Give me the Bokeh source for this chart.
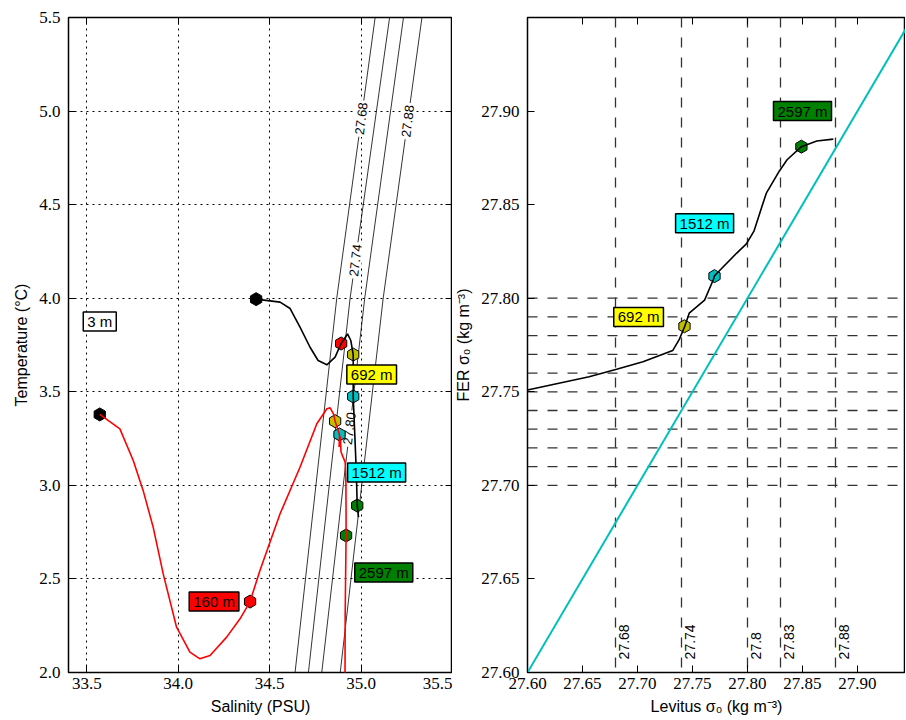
import numpy as np
from bokeh.plotting import figure
from bokeh.layouts import row
from bokeh.models import (Range1d, FixedTicker, PrintfTickFormatter, LinearAxis,
                          Span, Label)
from bokeh.core.properties import value
from bokeh.embed import file_html
from bokeh.resources import INLINE

# ------------------------------------------------------------------ data
depth_labels = ["3 m", "160 m", "692 m", "1512 m", "2597 m"]
box_colors = ["white", "#ff0000", "#ffff00", "#00ffff", "#008000"]
marker_colors = ["black", "#ff0000", "#bfbf00", "#00bfbf", "#008000"]

# station A (black T-S profile)
a_sal = [34.426, 34.557, 34.612, 34.666, 34.721, 34.765, 34.813, 34.858, 34.891,
         34.926, 34.944, 34.957, 34.957, 34.973, 34.979, 34.986]
a_temp = [3.995, 3.979, 3.945, 3.845, 3.738, 3.667, 3.644, 3.685, 3.758,
          3.809, 3.774, 3.699, 3.475, 3.097, 2.892, 2.830]
a_mk_sal = [34.426, 34.891, 34.957, 34.957, 34.979]
a_mk_temp = [3.995, 3.758, 3.699, 3.475, 2.892]

# station B (red T-S profile)
b_sal = [33.571, 33.681, 33.754, 33.808, 33.863, 33.918, 33.991, 34.064, 34.119,
         34.174, 34.265, 34.338, 34.393, 34.447, 34.557, 34.666, 34.758, 34.813,
         34.831, 34.849, 34.858, 34.882, 34.880, 34.887, 34.890, 34.900, 34.913,
         34.917, 34.918, 34.918, 34.913, 34.912]
b_temp = [3.379, 3.302, 3.133, 2.973, 2.777, 2.527, 2.242, 2.109, 2.073,
          2.091, 2.189, 2.287, 2.379, 2.545, 2.848, 3.097, 3.329, 3.409,
          3.414, 3.382, 3.343, 3.272, 3.205, 3.262, 3.180, 3.155, 3.124,
          3.030, 2.850, 2.732, 2.300, 1.900]
b_mk_sal = [33.571, 34.393, 34.858, 34.882, 34.918]
b_mk_temp = [3.379, 2.379, 3.343, 3.272, 2.732]

# isopycnals (sigma0)
iso_levels = ["27.68", "27.74", "27.80", "27.88"]
iso_temp = [2.0, 4.0, 5.5]
iso_sal = [[34.639, 34.867, 35.077],
           [34.712, 34.940, 35.156],
           [34.785, 35.020, 35.232],
           [34.886, 35.121, 35.333]]
iso_lab_sal = [35.001, 34.969, 34.936, 35.255]
iso_lab_temp = [4.960, 4.202, 3.304, 4.946]

# depth label anchors, T-S panel
ts_lab_sal = [33.571, 34.196, 35.058, 35.085, 35.124]
ts_lab_temp = [3.876, 2.379, 3.592, 3.069, 2.534]

# FER vs Levitus sigma0
lev_sigma = [27.600, 27.656, 27.681, 27.705, 27.732, 27.738, 27.743, 27.747, 27.761,
             27.769, 27.770, 27.790, 27.799, 27.806, 27.817, 27.829, 27.836, 27.849,
             27.863, 27.878]
fer_sigma = [27.751, 27.758, 27.762, 27.766, 27.772, 27.778, 27.785, 27.792, 27.799,
             27.810, 27.812, 27.824, 27.829, 27.836, 27.856, 27.868, 27.874, 27.881,
             27.884, 27.885]
sig_mk_lev = [27.7427, 27.770, 27.849]
sig_mk_fer = [27.785, 27.8118, 27.881]
sig_lab_lev = [27.701, 27.761, 27.850]
sig_lab_fer = [27.790, 27.840, 27.900]
one_to_one = [27.60, 27.95]

lev_levels = [27.68, 27.74, 27.80, 27.83, 27.88]
lev_level_labels = ["27.68", "27.74", "27.8", "27.83", "27.88"]
fer_levels = [27.70, 27.71, 27.72, 27.73, 27.74, 27.75, 27.76, 27.77, 27.78, 27.79, 27.80]

ts_xticks = [33.5, 34.0, 34.5, 35.0, 35.5]
ts_yticks = [2.0, 2.5, 3.0, 3.5, 4.0, 4.5, 5.0, 5.5]
sig_ticks = [27.60, 27.65, 27.70, 27.75, 27.80, 27.85, 27.90]

# ------------------------------------------------------------------ styling helpers
SERIF = "Liberation Serif"
SANS = "Liberation Sans"


def style_axis(ax, ticks, fmt, label=None, standoff=6):
    ax.ticker = FixedTicker(ticks=ticks)
    ax.formatter = PrintfTickFormatter(format=fmt)
    ax.axis_line_color = None
    ax.major_tick_in = 7
    ax.major_tick_out = 0
    ax.major_tick_line_color = "black"
    ax.major_tick_line_width = 1
    ax.minor_tick_line_color = None
    ax.major_label_text_font = SERIF
    ax.major_label_text_font_size = "17px"
    ax.major_label_text_color = "black"
    ax.major_label_standoff = standoff
    if label is not None:
        ax.axis_label = label
        ax.axis_label_text_font = SANS
        ax.axis_label_text_font_size = "16px"
        ax.axis_label_text_font_style = "normal"
        ax.axis_label_text_color = "black"
        ax.axis_label_standoff = 6


def tick_only_axis(ticks):
    return LinearAxis(ticker=FixedTicker(ticks=ticks),
                      major_label_overrides={t: "" for t in ticks},
                      major_tick_in=7, major_tick_out=0, minor_tick_line_color=None,
                      axis_line_color=None, major_label_standoff=0,
                      major_tick_line_color="black")


def depth_label(p, x, y, text, fill):
    p.add_layout(Label(x=x, y=y, text=text, text_align="center", text_baseline="middle",
                       text_font=SANS, text_font_size="15px", text_color="black",
                       background_fill_color=fill, border_line_color="black",
                       border_line_width=1.5, padding=(4, 1)))


# ------------------------------------------------------------------ T-S panel
p1 = figure(frame_width=384, frame_height=655,
            x_range=Range1d(33.4, 35.5), y_range=Range1d(2.0, 5.5),
            output_backend="svg", toolbar_location=None,
            min_border_left=68, min_border_right=0, min_border_top=17, min_border_bottom=46,
            background_fill_color="white", border_fill_color="white")
p1.outline_line_color = "black"
p1.outline_line_width = 1.5
style_axis(p1.below[0], ts_xticks, "%.1f", "Salinity (PSU)", standoff=5)
style_axis(p1.left[0], ts_yticks, "%.1f", "Temperature (°C)", standoff=8)
p1.xgrid.ticker = FixedTicker(ticks=ts_xticks)
p1.ygrid.ticker = FixedTicker(ticks=ts_yticks)
p1.grid.grid_line_color = "black"
p1.grid.grid_line_dash = "2 4"
p1.grid.grid_line_width = 1
p1.add_layout(tick_only_axis(ts_xticks), "above")
p1.add_layout(tick_only_axis(ts_yticks), "right")

for sal in iso_sal:
    p1.line(sal, iso_temp, line_color="black", line_width=0.8)
p1.text(x=iso_lab_sal, y=iso_lab_temp, text=iso_levels, angle=83, angle_units="deg",
        text_align="center", text_baseline="middle", text_font=value(SANS),
        text_font_size="13px", text_color="black", background_fill_color="white", padding=2)

p1.scatter(a_mk_sal, a_mk_temp, marker="hex", size=13, angle=30, angle_units="deg",
           fill_color=marker_colors, line_color="black", line_width=1)
p1.scatter(b_mk_sal, b_mk_temp, marker="hex", size=13, angle=30, angle_units="deg",
           fill_color=marker_colors, line_color="black", line_width=1)
p1.line(b_sal, b_temp, line_color="#ff0000", line_width=1.6)
p1.line(a_sal, a_temp, line_color="black", line_width=1.6)

for x, y, t, c in zip(ts_lab_sal, ts_lab_temp, depth_labels, box_colors):
    depth_label(p1, x, y, t, c)

# ------------------------------------------------------------------ sigma panel
p2 = figure(frame_width=378, frame_height=655,
            x_range=Range1d(27.60, 27.94364), y_range=Range1d(27.60, 27.95),
            output_backend="svg", toolbar_location=None,
            min_border_left=72, min_border_right=0, min_border_top=17, min_border_bottom=46,
            background_fill_color="white", border_fill_color="white")
p2.outline_line_color = "black"
p2.outline_line_width = 1.5
p2.grid.visible = False
style_axis(p2.below[0], sig_ticks, "%.2f", "Levitus σ₀ (kg m⁻³)", standoff=5)
style_axis(p2.left[0], sig_ticks, "%.2f", "FER σ₀ (kg m⁻³)", standoff=8)
p2.add_layout(tick_only_axis(sig_ticks), "above")

for v in lev_levels:
    p2.add_layout(Span(location=v, dimension="height", line_color="#333333",
                       line_dash="10 10", line_width=1.3, level="underlay"))
for v in fer_levels:
    p2.add_layout(Span(location=v, dimension="width", line_color="#333333",
                       line_dash="10 10", line_width=1.3, level="underlay"))

p2.text(x=lev_levels, y=27.607, text=lev_level_labels, angle=90, angle_units="deg",
        text_align="left", text_baseline="top", x_offset=4, text_font=value(SANS),
        text_font_size="14px", text_color="black")

p2.line(one_to_one, one_to_one, line_color="#00bfbf", line_width=2)
p2.scatter(sig_mk_lev, sig_mk_fer, marker="hex", size=13, angle=30, angle_units="deg",
           fill_color=marker_colors[2:], line_color="black", line_width=1)
p2.line(lev_sigma, fer_sigma, line_color="black", line_width=1.6)

for x, y, t, c in zip(sig_lab_lev, sig_lab_fer, depth_labels[2:], box_colors[2:]):
    depth_label(p2, x, y, t, c)

layout = row(p1, p2)
open("out.html", "w").write(file_html(layout, INLINE))
